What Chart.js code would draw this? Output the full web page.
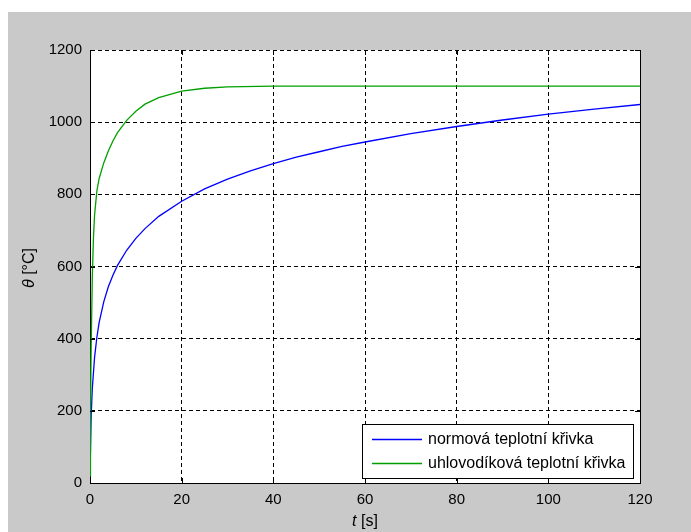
<!DOCTYPE html>
<html><head><meta charset="utf-8">
<script src="https://cdn.jsdelivr.net/npm/chart.js@4/dist/chart.umd.min.js"></script>
<style>html,body{margin:0;padding:0;background:#fff;}#wrap{position:absolute;left:0;top:0;width:691px;height:532px;}</style>
</head><body><div id="wrap"><canvas id="c" width="691" height="532"></canvas></div>
<script>
// ---- data ----
const xTicks = [0, 20, 40, 60, 80, 100, 120];
const yTicks = [0, 200, 400, 600, 800, 1000, 1200];
const seriesLabels = ['normová teplotní křivka', 'uhlovodíková teplotní křivka'];
const tNorm = [0, 0.25, 0.5, 1, 1.5, 2, 3, 4, 5, 6, 8, 10, 12, 15, 20, 25, 30, 35, 40, 45, 50, 55, 60, 70, 80, 90, 100, 110, 120];
const normValues = [20, 185, 261, 349, 404, 445, 502, 544, 576, 603, 645, 678, 705, 739, 781, 815, 842, 865, 885, 903, 918, 933, 945, 968, 988, 1006, 1022, 1036, 1049];
const tHydro = [0, 0.1, 0.25, 0.5, 0.75, 1, 1.5, 2, 3, 4, 5, 6, 8, 10, 12, 15, 20, 25, 30, 40, 60, 80, 100, 120];
const hydroValues = [20, 187, 373, 568, 679, 743, 810, 844, 887, 920, 948, 971, 1005, 1030, 1050, 1068, 1086, 1094, 1098, 1100, 1100, 1100, 1100, 1100];
const xTitleParts = ['t', ' [s]'];
const yTitleParts = ['θ', ' [°C]'];

const FONT = "'Liberation Sans', Arial, sans-serif";

const bgPlugin = {
  id: 'bg',
  beforeDraw(chart) {
    const ctx = chart.ctx, a = chart.chartArea;
    ctx.save();
    ctx.fillStyle = '#ffffff';
    ctx.fillRect(0, 0, chart.width, chart.height);
    ctx.fillStyle = '#c9c9c9';
    ctx.fillRect(8, 12, chart.width - 8, chart.height - 12);
    ctx.fillStyle = '#ffffff';
    ctx.fillRect(a.left, a.top, a.right - a.left, a.bottom - a.top);
    ctx.restore();
  }
};

const framePlugin = {
  id: 'frame',
  afterDraw(chart) {
    const ctx = chart.ctx, a = chart.chartArea;
    const xs = chart.scales.x, ys = chart.scales.y;
    ctx.save();
    ctx.strokeStyle = '#000';
    ctx.lineWidth = 1;
    ctx.setLineDash([]);
    ctx.beginPath();
    ctx.moveTo(Math.round(a.right) + 0.5, a.top);
    ctx.lineTo(Math.round(a.right) + 0.5, a.bottom);
    ctx.stroke();
    // inward ticks
    ctx.beginPath();
    xTicks.forEach(v => {
      const px = Math.round(xs.getPixelForValue(v)) + 0.5;
      ctx.moveTo(px, a.bottom); ctx.lineTo(px, a.bottom - 5);
      ctx.moveTo(px, a.top); ctx.lineTo(px, a.top + 5);
    });
    yTicks.forEach(v => {
      const py = Math.round(ys.getPixelForValue(v)) + 0.5;
      ctx.moveTo(a.left, py); ctx.lineTo(a.left + 5, py);
      ctx.moveTo(a.right, py); ctx.lineTo(a.right - 5, py);
    });
    ctx.stroke();

    // legend box
    const L = 362, T = 424, R = 633, B = 478;
    ctx.fillStyle = '#fff';
    ctx.fillRect(L, T, R - L, B - T);
    ctx.strokeRect(L + 0.5, T + 0.5, R - L, B - T);
    const rows = [439, 463];
    chart.data.datasets.forEach((ds, i) => {
      ctx.strokeStyle = ds.borderColor;
      ctx.lineWidth = 1.3;
      ctx.beginPath();
      ctx.moveTo(372, rows[i] + 0.5); ctx.lineTo(422, rows[i] + 0.5);
      ctx.stroke();
      ctx.fillStyle = '#000';
      ctx.font = '16px ' + FONT;
      ctx.textBaseline = 'middle';
      ctx.textAlign = 'left';
      ctx.fillText(ds.label, 428, rows[i] + 1);
    });

    // axis titles
    function drawParts(parts, cx, cy) {
      ctx.textBaseline = 'middle';
      ctx.textAlign = 'left';
      const fonts = ['italic 16px ' + FONT, '16px ' + FONT];
      let w = 0;
      parts.forEach((p, i) => { ctx.font = fonts[i]; w += ctx.measureText(p).width; });
      let x = cx - w / 2;
      parts.forEach((p, i) => { ctx.font = fonts[i]; ctx.fillText(p, x, cy); x += ctx.measureText(p).width; });
    }
    ctx.fillStyle = '#000';
    drawParts(xTitleParts, (a.left + a.right) / 2, 522);
    ctx.save();
    ctx.translate(30, 268);
    ctx.rotate(-Math.PI / 2);
    drawParts(yTitleParts, 0, 0);
    ctx.restore();
    ctx.restore();
  }
};

const toPts = (xs, ys) => xs.map((x, i) => ({ x: x, y: ys[i] }));

new Chart(document.getElementById('c'), {
  type: 'line',
  data: {
    datasets: [
      { label: seriesLabels[0], data: toPts(tNorm, normValues), borderColor: '#0000ff', borderWidth: 1.3, pointRadius: 0, tension: 0, fill: false, order: 1 },
      { label: seriesLabels[1], data: toPts(tHydro, hydroValues), borderColor: '#00a000', borderWidth: 1.3, pointRadius: 0, tension: 0, fill: false, order: 0 }
    ]
  },
  options: {
    responsive: false,
    animation: false,
    devicePixelRatio: 1,
    layout: { padding: { left: 0, top: 50, right: 51, bottom: 0 } },
    plugins: { legend: { display: false }, tooltip: { enabled: false } },
    scales: {
      x: {
        type: 'linear', min: 0, max: 120,
        afterBuildTicks: s => { s.ticks = xTicks.map(v => ({ value: v })); },
        afterFit: s => { s.height = 49; },
        ticks: { color: '#000', font: { family: FONT, size: 15 }, padding: 8, maxRotation: 0, callback: v => String(v) },
        grid: { color: '#000', lineWidth: 1, drawTicks: false },
        border: { display: true, color: '#000', width: 1, dash: [4, 3] }
      },
      y: {
        min: 0, max: 1200,
        afterBuildTicks: s => { s.ticks = yTicks.map(v => ({ value: v })); },
        afterFit: s => { s.width = 90; },
        ticks: { color: '#000', font: { family: FONT, size: 15 }, padding: 8, callback: v => String(v) },
        grid: { color: '#000', lineWidth: 1, drawTicks: false },
        border: { display: true, color: '#000', width: 1, dash: [4, 3] }
      }
    }
  },
  plugins: [bgPlugin, framePlugin]
});
</script></body></html>
